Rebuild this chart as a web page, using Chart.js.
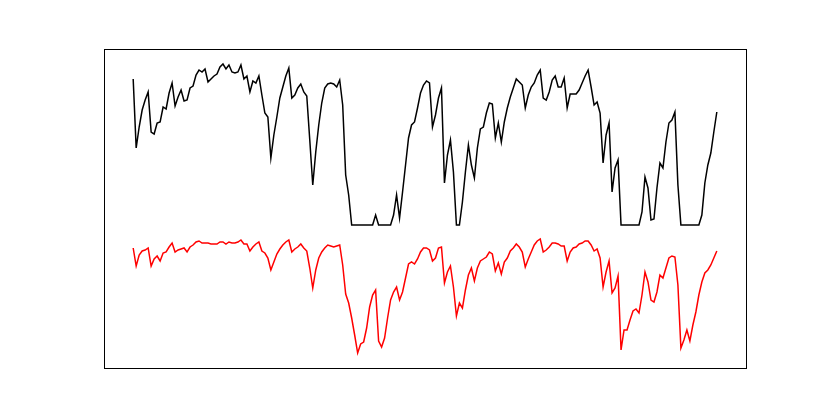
<!DOCTYPE html>
<html>
<head>
<meta charset="utf-8">
<script src="https://cdn.jsdelivr.net/npm/chart.js@4"></script>
<style>
  html, body { margin: 0; padding: 0; background: #fff; }
  #wrap { width: 830px; height: 415px; }
</style>
</head>
<body>
<div id="wrap"><canvas id="chart" width="830" height="415"></canvas></div>
<script>
// upper (black) series, one value per sample
const blackValues = [
  289, 220, 241, 258, 268, 276, 236, 234, 245, 246,
  261, 259, 275, 285, 262, 271, 278, 267, 268, 280,
  282, 293, 298, 296, 299, 286, 289, 292, 294, 301,
  304, 299, 303, 296, 295, 296, 303, 289, 292, 276,
  287, 285, 292, 273, 255, 251, 210, 233, 251, 270,
  281, 292, 300, 270, 273, 280, 284, 276, 272, 228,
  183, 216, 243, 265, 280, 284, 285, 284, 281, 288,
  263, 193, 173, 143, 143, 143, 143, 143, 143, 143,
  143, 153, 143, 143, 143, 143, 143, 153, 173, 150,
  176, 203, 230, 243, 246, 260, 275, 283, 287, 285,
  241, 253, 270, 280, 185, 213, 228, 196, 143, 143,
  166, 196, 223, 203, 190, 220, 239, 241, 255, 265,
  264, 230, 245, 226, 246, 260, 271, 280, 289, 286,
  283, 260, 273, 281, 285, 293, 298, 270, 268, 276,
  288, 292, 281, 281, 290, 260, 274, 274, 274, 278,
  285, 292, 298, 281, 263, 266, 255, 205, 233, 245,
  176, 200, 208, 143, 143, 143, 143, 143, 143, 143,
  156, 191, 180, 148, 149, 180, 205, 200, 226, 245,
  248, 256, 183, 143, 143, 143, 143, 143, 143, 143,
  153, 185, 203, 215, 236, 256
];

// lower (red) series
const redValues = [
  120, 102, 113, 117, 118, 120, 102, 109, 112, 107,
  115, 116, 121, 125, 116, 118, 119, 120, 116, 121,
  123, 126, 127, 125, 125, 125, 124, 124, 124, 126,
  126, 124, 126, 125, 125, 126, 128, 124, 124, 117,
  121, 124, 126, 117, 115, 110, 98, 106, 114, 119,
  123, 126, 128, 116, 119, 121, 124, 120, 117, 100,
  80, 98, 110, 116, 120, 123, 122, 121, 122, 123,
  103, 74, 65, 50, 33, 15, 24, 26, 40, 61,
  73, 78, 27, 21, 30, 50, 68, 76, 81, 68,
  76, 90, 104, 106, 104, 109, 116, 120, 120, 118,
  107, 110, 120, 121, 85, 96, 102, 81, 52, 65,
  60, 78, 93, 100, 87, 100, 107, 109, 111, 116,
  114, 97, 105, 94, 106, 110, 117, 120, 124, 121,
  116, 101, 109, 116, 123, 127, 129, 116, 118, 121,
  125, 125, 124, 122, 122, 107, 116, 120, 121, 124,
  125, 127, 127, 123, 117, 119, 110, 81, 96, 107,
  75, 80, 92, 18, 38, 38, 48, 57, 59, 55,
  73, 96, 86, 68, 66, 76, 93, 90, 100, 110,
  112, 111, 83, 20, 28, 38, 27, 43, 56, 73,
  86, 95, 98, 103, 110, 117
];

const toPoints = (vals) => vals.map((v, i) => ({ x: i, y: v }));

// matplotlib-like axes box
const frame = {
  id: "frame",
  afterDraw(chart) {
    const { ctx, chartArea: a } = chart;
    ctx.save();
    ctx.strokeStyle = "#000";
    ctx.lineWidth = 1;
    ctx.strokeRect(a.left + 0.5, a.top + 0.5, a.right - a.left, a.bottom - a.top);
    ctx.restore();
  },
};

new Chart(document.getElementById("chart"), {
  type: "line",
  data: {
    datasets: [
      {
        data: toPoints(blackValues),
        borderColor: "#000000",
        borderWidth: 1.5,
        pointRadius: 0,
        tension: 0,
        fill: false,
      },
      {
        data: toPoints(redValues),
        borderColor: "#ff0000",
        borderWidth: 1.5,
        pointRadius: 0,
        tension: 0,
        fill: false,
      },
    ],
  },
  options: {
    responsive: false,
    animation: false,
    layout: { padding: { left: 104, right: 84, top: 49, bottom: 47 } },
    plugins: {
      legend: { display: false },
      tooltip: { enabled: false },
    },
    scales: {
      x: { type: "linear", display: false, min: -9.75, max: 204.75 },
      y: { type: "linear", display: false, min: 0, max: 319 },
    },
  },
  plugins: [frame],
});
</script>
</body>
</html>
